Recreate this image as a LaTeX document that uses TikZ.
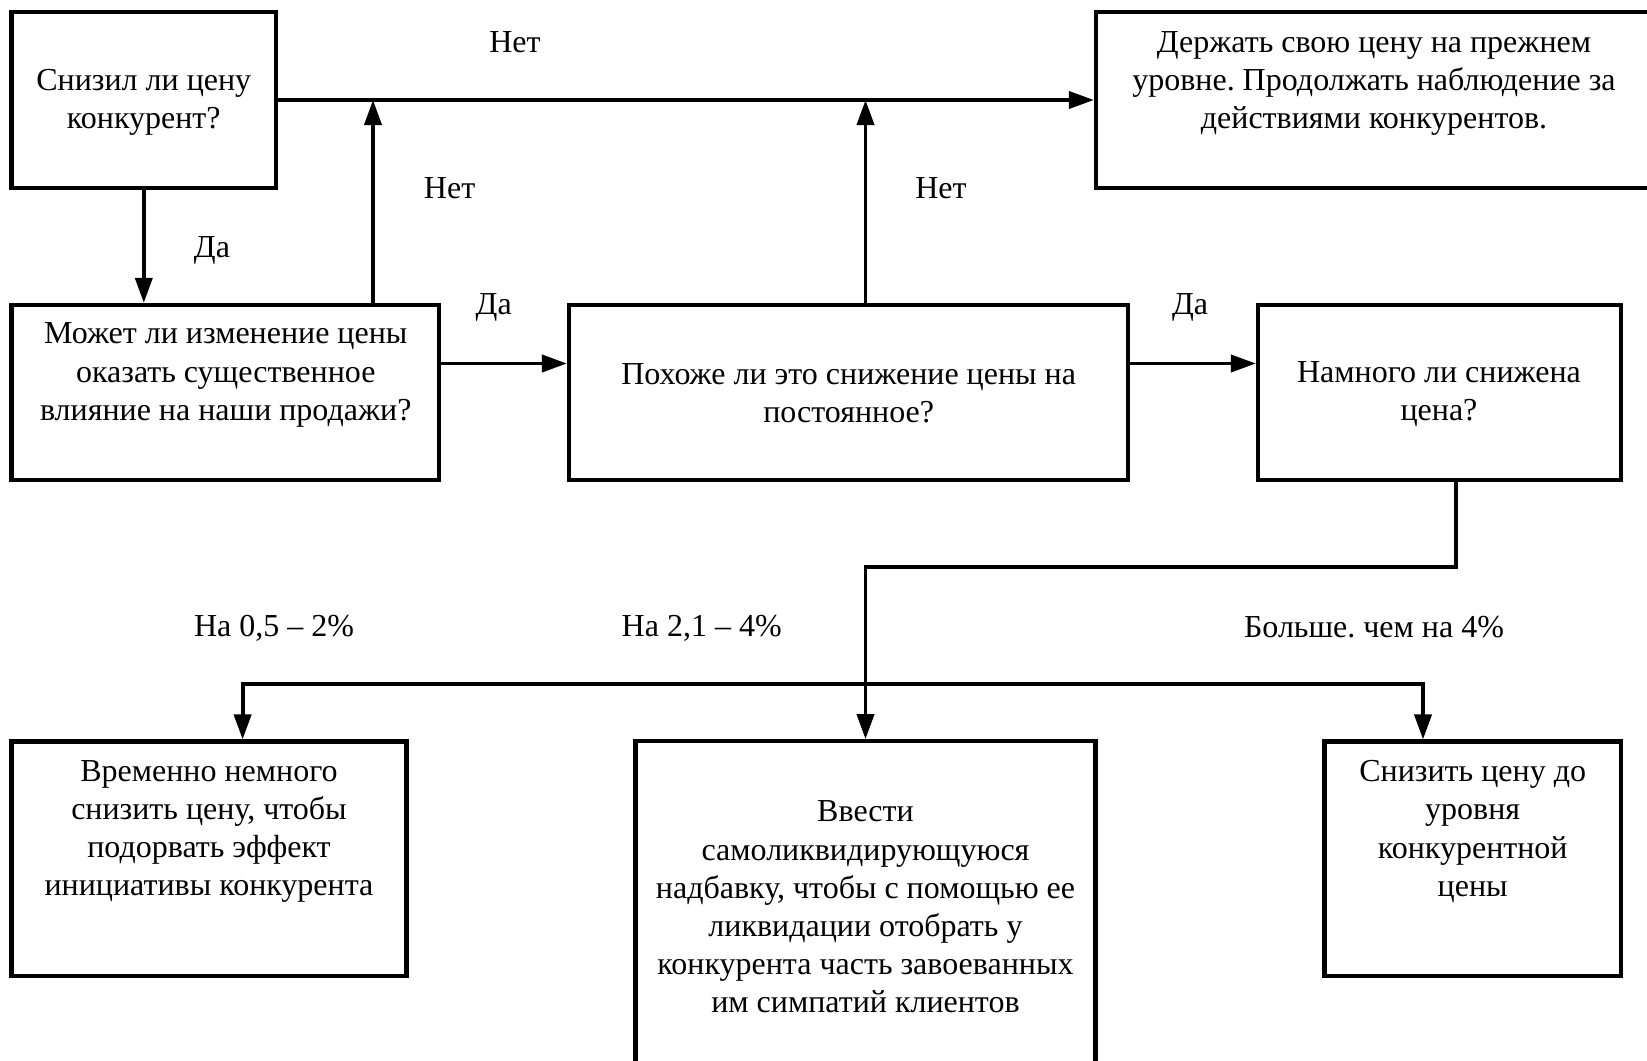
\documentclass[tikz,border=0pt]{standalone}
\usepackage{fontspec}
\setmainfont{Liberation Serif}
\usetikzlibrary{arrows.meta,positioning,calc}
\frenchspacing

\begin{document}
\begin{tikzpicture}[x=0.5pt,y=-0.5pt,
    box/.style={draw, line width=2.1pt, inner sep=0pt},
    txt/.style={align=center, font=\fontsize{16}{19.1}\selectfont},
    lbl/.style={font=\fontsize{16}{19.1}\selectfont},
    link/.style={line width=1.9pt, line cap=rect},
    arr/.style={link, -{Triangle[length=12.5pt,width=8.5pt]}}]
    \useasboundingbox (0,0) rectangle (1647,1060);

    % boxes
    \node[box, minimum width=132.25pt, minimum height=88.25pt] (ask) at (143.8,100) {};
    \node[box, minimum width=278pt, minimum height=87.7pt] (hold) at (1374,100) {};
    \node[box, minimum width=213.75pt, minimum height=87.5pt] (may) at (225.3,392.5) {};
    \node[box, minimum width=279.5pt, minimum height=87.5pt] (perm) at (848.5,392.5) {};
    \node[box, minimum width=181.5pt, minimum height=87.5pt] (much) at (1439.5,392.5) {};
    \node[box, minimum width=197.5pt, minimum height=117.25pt] (temp) at (209,858.8) {};
    \node[box, minimum width=230pt, minimum height=166.75pt] (intro) at (865.5,908) {};
    \node[box, minimum width=148.25pt, minimum height=117.25pt] (lower) at (1472.8,858.8) {};

    % box texts
    \node[txt] at (143.8,102.5) {Снизил ли цену\\конкурент?};
    \node[txt] at (1374,83.5) {Держать свою цену на прежнем\\уровне. Продолжать наблюдение за\\действиями конкурентов.};
    \node[txt] at (225.8,375) {Может ли изменение цены\\оказать существенное\\влияние на наши продажи?};
    \node[txt] at (848.7,393.5) {Похоже ли это снижение цены на\\постоянное?};
    \node[txt] at (1439,394) {Намного ли снижена\\цена?};
    \node[txt] at (209,831.5) {Временно немного\\снизить цену, чтобы\\подорвать эффект\\инициативы конкурента};
    \node[txt] at (865.5,907) {Ввести\\самоликвидирующуюся\\надбавку, чтобы с помощью ее\\ликвидации отобрать у\\конкурента часть завоеванных\\им симпатий клиентов};
    \node[txt] at (1472.7,831.5) {Снизить цену до\\уровня\\конкурентной\\цены};

    % connectors
    \coordinate (j1) at (373,100);
    \coordinate (j2) at (865.5,100);
    \coordinate (r1) at (0,363.5);
    \coordinate (d1) at (1456,567);
    \coordinate (b1) at (242.6,684);
    \coordinate (b2) at (1423,684);

    \draw[arr] (ask.east) -- (hold.west);
    \draw[arr] (ask.south) -- (ask.south |- may.north);
    \draw[arr] (j1 |- may.north) -- (j1);
    \draw[arr] (j2 |- perm.north) -- (j2);
    \draw[arr] (may.east |- r1) -- (perm.west |- r1);
    \draw[arr] (perm.east |- r1) -- (much.west |- r1);
    \draw[arr] (d1 |- much.south) -- (d1) -| (intro.north);
    \draw[link] (b1) -- (b2);
    \draw[arr] (b1) -- (b1 |- temp.north);
    \draw[arr] (b2) -- (b2 |- lower.north);

    % labels
    \node[lbl] at (515,42) {Нет};
    \node[lbl] at (449.6,188) {Нет};
    \node[lbl] at (941,188) {Нет};
    \node[lbl] at (212,250) {Да};
    \node[lbl] at (493.7,307.5) {Да};
    \node[lbl] at (1190,307.5) {Да};
    \node[lbl] at (274,628) {На 0,5 – 2\%};
    \node[lbl] at (701.7,628) {На 2,1 – 4\%};
    \node[lbl] at (1374,627) {Больше. чем на 4\%};
\end{tikzpicture}
\end{document}
